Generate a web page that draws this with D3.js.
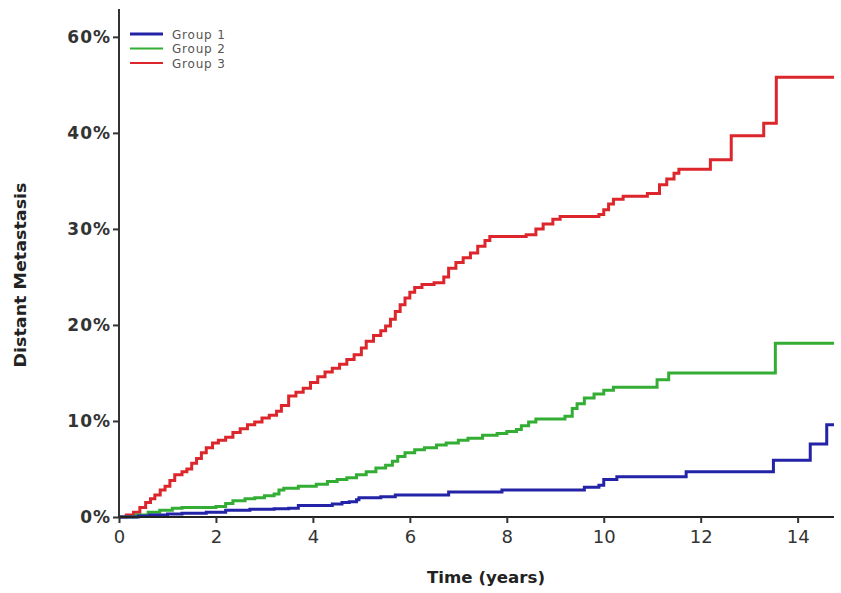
<!DOCTYPE html>
<html><head><meta charset="utf-8">
<script src="https://cdn.jsdelivr.net/npm/d3@7"></script>
<style>body{margin:0;background:#fff}svg{display:block}</style>
</head><body>
<svg id="c" width="841" height="593"></svg>
<script>
const seriesNames = ["Group 1", "Group 2", "Group 3"];
const seriesColors = ["#2323a8", "#34ad34", "#dc262b"];
// event times (years) and cumulative % for each step curve
const g1Time = [0, 0.4, 0.64, 1.0, 1.3, 1.8, 2.2, 2.7, 3.2, 3.5, 3.7, 4.4, 4.6, 4.75, 4.9, 4.95, 5.4, 5.7, 6.8, 7.9, 9.6, 9.9, 10.0, 10.27, 11.7, 13.5, 14.26, 14.6, 14.75];
const g1Val  = [0, 0.1, 0.2, 0.3, 0.4, 0.5, 0.7, 0.8, 0.85, 0.9, 1.2, 1.35, 1.5, 1.6, 1.8, 2.0, 2.1, 2.3, 2.6, 2.8, 3.1, 3.3, 3.9, 4.2, 4.7, 5.9, 7.6, 9.6, 9.6];
const g2Time = [0, 0.35, 0.6, 0.84, 1.1, 1.3, 2.0, 2.2, 2.35, 2.6, 2.8, 3.0, 3.2, 3.3, 3.4, 3.7, 4.07, 4.3, 4.5, 4.7, 4.9, 5.1, 5.3, 5.5, 5.64, 5.75, 5.9, 6.1, 6.3, 6.55, 6.75, 7.0, 7.2, 7.5, 7.8, 8.0, 8.2, 8.3, 8.45, 8.6, 9.2, 9.35, 9.45, 9.6, 9.8, 10.0, 10.2, 11.1, 11.34, 13.54, 14.75];
const g2Val  = [0, 0.2, 0.5, 0.7, 0.9, 1.0, 1.1, 1.4, 1.7, 1.9, 2.0, 2.2, 2.4, 2.8, 3.0, 3.2, 3.4, 3.7, 3.9, 4.1, 4.4, 4.7, 5.1, 5.4, 5.8, 6.3, 6.7, 7.0, 7.2, 7.5, 7.7, 8.0, 8.2, 8.5, 8.7, 8.9, 9.1, 9.5, 9.9, 10.2, 10.5, 11.3, 11.8, 12.4, 12.8, 13.2, 13.5, 14.3, 15.0, 18.1, 18.1];
const g3Time = [0, 0.15, 0.3, 0.43, 0.55, 0.65, 0.74, 0.85, 0.95, 1.05, 1.15, 1.3, 1.4, 1.5, 1.6, 1.7, 1.8, 1.93, 2.05, 2.2, 2.35, 2.5, 2.65, 2.8, 2.95, 3.1, 3.25, 3.35, 3.5, 3.65, 3.8, 3.95, 4.1, 4.25, 4.4, 4.55, 4.7, 4.85, 5.0, 5.1, 5.25, 5.4, 5.5, 5.6, 5.7, 5.8, 5.9, 6.0, 6.1, 6.25, 6.5, 6.7, 6.8, 6.95, 7.1, 7.25, 7.4, 7.55, 7.65, 8.4, 8.6, 8.75, 8.95, 9.1, 9.9, 10.0, 10.1, 10.2, 10.4, 10.9, 11.15, 11.3, 11.45, 11.55, 12.2, 12.63, 13.3, 13.56, 14.75];
const g3Val  = [0, 0.2, 0.5, 1.0, 1.5, 1.9, 2.3, 2.8, 3.2, 3.8, 4.4, 4.7, 5.0, 5.6, 6.1, 6.7, 7.2, 7.7, 8.0, 8.3, 8.8, 9.2, 9.6, 9.9, 10.3, 10.6, 11.0, 11.6, 12.6, 13.0, 13.4, 14.0, 14.6, 15.1, 15.5, 15.9, 16.4, 16.9, 17.6, 18.3, 18.9, 19.4, 19.9, 20.6, 21.4, 22.1, 22.8, 23.4, 23.9, 24.2, 24.4, 25.0, 25.9, 26.5, 27.0, 27.5, 28.2, 28.8, 29.2, 29.4, 30.0, 30.5, 31.0, 31.3, 31.5, 32.0, 32.6, 33.1, 33.4, 33.7, 34.6, 35.2, 35.8, 36.2, 37.2, 39.7, 41.0, 45.8, 45.8];
const xTicks = [0, 2, 4, 6, 8, 10, 12, 14];
const yTicks = [0, 10, 20, 30, 40, 50];
const yTickLabels = ["0%", "10%", "20%", "30%", "40%", "60%"];

const svg = d3.select("#c");
const x = d3.scaleLinear().domain([0, 14.75]).range([119, 834]);
const y = d3.scaleLinear().domain([0, 52.9]).range([517, 9]);

const series = [
  {name: seriesNames[0], color: seriesColors[0], t: g1Time, v: g1Val},
  {name: seriesNames[1], color: seriesColors[1], t: g2Time, v: g2Val},
  {name: seriesNames[2], color: seriesColors[2], t: g3Time, v: g3Val}
];
const line = d3.line().x(d => x(d[0])).y(d => y(d[1])).curve(d3.curveStepAfter);
[2, 1, 0].forEach(i => {
  const s = series[i];
  svg.append("path")
    .datum(s.t.map((t, k) => [t, s.v[k]]))
    .attr("fill", "none").attr("stroke", s.color)
    .attr("stroke-width", 3).attr("stroke-linejoin", "miter")
    .attr("d", line);
});

const fontFam = "'DejaVu Sans', 'Open Sans', sans-serif";
const yAxis = svg.append("g").attr("transform", `translate(${x(0)},0)`)
  .call(d3.axisLeft(y).tickValues(yTicks).tickFormat((d, i) => yTickLabels[i]).tickSize(6).tickPadding(2));
yAxis.select(".domain").attr("stroke", "#333").attr("stroke-width", 2).attr("d", `M0,${y(52.9)}V${y(0)}`);
yAxis.selectAll(".tick line").attr("stroke", "#333").attr("stroke-width", 2);
yAxis.selectAll(".tick text").attr("fill", "#333").attr("font-size", 17).attr("font-weight", "bold")
  .attr("letter-spacing", 1).attr("font-family", fontFam);

const xAxis = svg.append("g").attr("transform", `translate(0,${y(0)})`)
  .call(d3.axisBottom(x).tickValues(xTicks).tickSize(6).tickPadding(7));
xAxis.select(".domain").attr("stroke", "#222").attr("stroke-width", 2).attr("d", `M${x(0)},0H${x(14.75)}`);
xAxis.selectAll(".tick line").attr("stroke", "#333").attr("stroke-width", 2);
xAxis.selectAll(".tick text").attr("fill", "#333").attr("font-size", 18).attr("font-family", fontFam);

svg.append("text").attr("x", 486).attr("y", 583).attr("text-anchor", "middle")
  .attr("font-size", 16).attr("font-weight", "bold").attr("fill", "#222").attr("font-family", fontFam)
  .attr("textLength", 118).attr("lengthAdjust", "spacingAndGlyphs")
  .text("Time (years)");
svg.append("text").attr("transform", "translate(26,275) rotate(-90)").attr("text-anchor", "middle")
  .attr("font-size", 15).attr("font-weight", "bold").attr("fill", "#222").attr("font-family", fontFam)
  .attr("textLength", 185).attr("lengthAdjust", "spacingAndGlyphs")
  .text("Distant Metastasis");

const lg = svg.append("g");
series.forEach((s, i) => {
  const yy = 34 + i * 14.5;
  lg.append("line").attr("x1", 130).attr("x2", 163).attr("y1", yy).attr("y2", yy)
    .attr("stroke", s.color).attr("stroke-width", i === 0 ? 3 : 2);
  lg.append("text").attr("x", 172).attr("y", yy + 4.5).attr("font-size", 12).attr("fill", "#555")
    .attr("letter-spacing", 0.8).attr("font-family", fontFam).text(s.name);
});
</script>
</body></html>
